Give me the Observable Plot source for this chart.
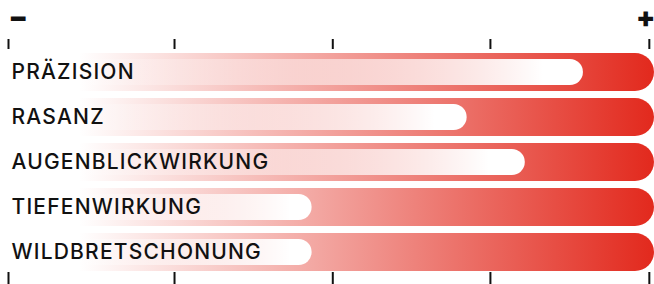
<!DOCTYPE html>
<html>
<head>
<meta charset="utf-8">
<script src="https://cdn.jsdelivr.net/npm/d3@7"></script>
<script src="https://cdn.jsdelivr.net/npm/@observablehq/plot@0.6"></script>
<style>
  html, body { margin: 0; padding: 0; background: #fff; }
</style>
</head>
<body>
<div id="chart"></div>
<script>
const labels = ["PRÄZISION", "RASANZ", "AUGENBLICKWIRKUNG", "TIEFENWIRKUNG", "WILDBRETSCHONUNG"];
const values = [89, 71, 80, 47, 47];
const scaleMin = 0;
const scaleMax = 100;
const tickValues = [0, 25.7, 50.2, 74.6, 99.2];
const endLabels = [{x: 0, s: "−"}, {x: 100, s: "+"}];

const rows = labels.map((label, i) => ({label, value: values[i], min: scaleMin, max: scaleMax}));

const defs = () => {
  const d = d3.create("svg:defs");
  const g1 = d.append("linearGradient").attr("id", "gOuter").attr("x1", 0).attr("x2", 1).attr("y1", 0).attr("y2", 0);
  g1.append("stop").attr("offset", 0.11).attr("stop-color", "#e2291d").attr("stop-opacity", 0);
  g1.append("stop").attr("offset", 1).attr("stop-color", "#e2291d").attr("stop-opacity", 1);
  const g2 = d.append("linearGradient").attr("id", "gInner").attr("x1", 0).attr("x2", 1).attr("y1", 0).attr("y2", 0);
  g2.append("stop").attr("offset", 0).attr("stop-color", "#fff").attr("stop-opacity", 0);
  g2.append("stop").attr("offset", 0.5).attr("stop-color", "#fff").attr("stop-opacity", 0.45);
  g2.append("stop").attr("offset", 0.93).attr("stop-color", "#fff").attr("stop-opacity", 1);
  return d.node();
};

const chart = Plot.plot({
  width: 654,
  height: 284,
  marginTop: 53,
  marginBottom: 13,
  marginLeft: 0,
  marginRight: 0,
  x: {domain: [scaleMin, scaleMax], range: [8, 654]},
  y: {domain: labels, paddingInner: 0.156, paddingOuter: 0, axis: null},
  style: {fontFamily: "Inter, sans-serif", background: "#fff"},
  marks: [
    defs,
    Plot.barX(rows, {x1: "min", x2: "max", y: "label", fill: "url(#gOuter)", rx: 19}),
    Plot.barX(rows, {x1: "min", x2: "value", y: "label", fill: "url(#gInner)", rx: 13, insetTop: 6, insetBottom: 6}),
    Plot.text(rows, {x: "min", y: "label", text: "label", textAnchor: "start", dx: 3, fontSize: 21, fontWeight: 500, fill: "#111"}),
    Plot.axisX({anchor: "top", ticks: tickValues, tickSize: 10, dy: -5, tickFormat: () => "", label: null, strokeWidth: 2, stroke: "#111"}),
    Plot.axisX({anchor: "bottom", ticks: tickValues, tickSize: 12, dy: 1, tickFormat: () => "", label: null, strokeWidth: 2, stroke: "#111"}),
    Plot.text([endLabels[0]], {x: "x", text: "s", frameAnchor: "top", lineAnchor: "middle", dy: -35, textAnchor: "start", fontSize: 28, fontWeight: 900, fill: "#111"}),
    Plot.text([endLabels[1]], {x: "x", text: "s", frameAnchor: "top", lineAnchor: "middle", dy: -35, textAnchor: "end", dx: 1, fontSize: 28, fontWeight: 900, fill: "#111"})
  ]
});
d3.select(chart).selectAll("text")
  .filter(function() { return labels.includes(this.textContent); })
  .attr("letter-spacing", "1.2")
  .style("letter-spacing", "1.2px");
document.getElementById("chart").append(chart);
</script>
</body>
</html>
